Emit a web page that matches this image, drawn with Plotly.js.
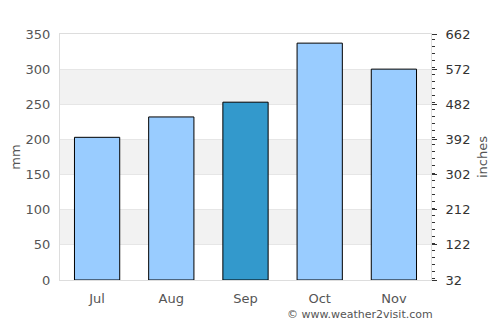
<!DOCTYPE html>
<html>
<head>
<meta charset="utf-8">
<script src="https://cdn.plot.ly/plotly-3.0.1.min.js"></script>
<style>html,body{margin:0;padding:0;background:#fff;}#chart{width:500px;height:325px;}</style>
</head>
<body>
<div id="chart"></div>
<script>
const months = ["Jul", "Aug", "Sep", "Oct", "Nov"];
const rainfallMm = [203, 232, 253, 337, 300];
const barColors = ["#99ccff", "#99ccff", "#3399cc", "#99ccff", "#99ccff"];
const leftTicks = [0, 50, 100, 150, 200, 250, 300, 350];
const rightTickLabels = [32, 122, 212, 302, 392, 482, 572, 662];
const bandRanges = [[50, 100], [150, 200], [250, 300]];

const font = "DejaVu Sans, sans-serif";
const shapes = bandRanges.map(r => ({
  type: "rect", xref: "paper", yref: "y", x0: 0, x1: 1, y0: r[0], y1: r[1],
  fillcolor: "#f2f2f2", line: {width: 0}, layer: "below"
}));

const traces = [
  {
    type: "bar", x: months, y: rainfallMm,
    marker: {color: barColors, line: {color: "#000", width: 1}},
    hoverinfo: "none"
  },
  {
    type: "scatter", x: months, y: rightTickLabels.slice(0, 1), yaxis: "y2",
    mode: "none", showlegend: false, hoverinfo: "none"
  }
];

const layout = {
  width: 500, height: 325,
  margin: {l: 60, r: 69, t: 34, b: 45},
  paper_bgcolor: "#fff", plot_bgcolor: "rgba(0,0,0,0)",
  showlegend: false,
  bargap: 0.39,
  font: {family: font, size: 13, color: "#555"},
  xaxis: {
    showgrid: false, ticks: "", showline: true, linecolor: "#dddddd", linewidth: 1,
    mirror: true, tickfont: {size: 13, color: "#555"}, fixedrange: true,
    ticklabelstandoff: 6
  },
  yaxis: {
    range: [0, 350], tickvals: leftTicks, showgrid: true, gridcolor: "#e6e6e6",
    zeroline: false, showline: true, linecolor: "#dddddd", mirror: true,
    tickfont: {size: 13, color: "#555"}, ticks: "", ticklabelstandoff: 6,
    title: {text: "mm", font: {size: 13, color: "#555"}, standoff: 2}
  },
  yaxis2: {
    overlaying: "y", side: "right", range: [32, 662], tickvals: rightTickLabels,
    showgrid: false, zeroline: false, showline: false,
    ticks: "outside", ticklen: 5, tickcolor: "#333", tickwidth: 1,
    minor: {dtick: 18, ticks: "outside", ticklen: 3, tickcolor: "#333", tickwidth: 1},
    tickfont: {size: 13, color: "#333"}, ticklabelstandoff: 6,
    title: {text: "inches", font: {size: 13, color: "#555"}, standoff: 8}
  },
  shapes: shapes,
  annotations: [{
    text: "© www.weather2visit.com", xref: "paper", yref: "paper",
    x: 1.01, y: -0.105, xanchor: "right", yanchor: "top", showarrow: false,
    font: {size: 11, color: "#555"}
  }]
};

Plotly.newPlot("chart", traces, layout, {staticPlot: true, displayModeBar: false});
</script>
</body>
</html>
